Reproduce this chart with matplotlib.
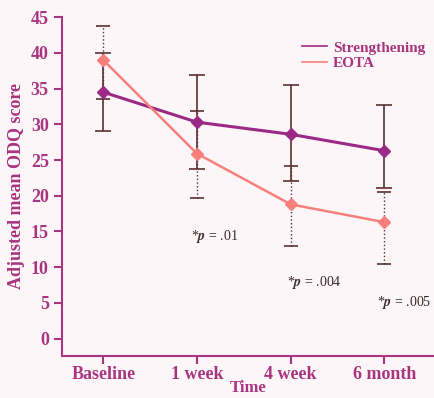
import numpy as np
import matplotlib.pyplot as plt

# data
time_labels = ['Baseline', '1 week', '4 week', '6 month']
strength_mean = [34.5, 30.3, 28.6, 26.3]
strength_upper = [40.0, 36.9, 35.5, 32.7]
strength_lower = [29.0, 23.8, 22.1, 21.1]
eota_mean = [39.0, 25.9, 18.8, 16.3]
eota_upper = [43.7, 31.8, 24.2, 20.5]
eota_lower = [33.5, 19.7, 13.0, 10.5]
p_labels = ['.01', '.004', '.005']
p_pos = [(1.19, 14.3), (2.25, 7.9), (3.21, 5.0)]

pink_text = '#a8357f'
purple = '#9a2a85'
salmon = '#f87f7c'
err_col = '#5b3030'

plt.rcParams['font.family'] = ['Liberation Serif', 'DejaVu Serif']
plt.rcParams['mathtext.fontset'] = 'stix'

fig = plt.figure(figsize=(4.35, 3.98), dpi=100, facecolor='#fdf6f9')
ax = fig.add_axes([0.1425, 0.106, 0.8575, 0.851])
ax.set_facecolor('#fdf6f9')

x = np.arange(len(time_labels))

# error bars (drawn first, behind lines)
s_err = [np.array(strength_mean) - np.array(strength_lower),
         np.array(strength_upper) - np.array(strength_mean)]
e_err = [np.array(eota_mean) - np.array(eota_lower),
         np.array(eota_upper) - np.array(eota_mean)]
eb = ax.errorbar(x, eota_mean, yerr=e_err, fmt='none', ecolor=err_col,
                 elinewidth=1.0, capsize=5, capthick=1.2, zorder=2)
eb[2][0].set_linestyle(':')
ax.errorbar(x, strength_mean, yerr=s_err, fmt='none', ecolor=err_col,
            elinewidth=1.2, capsize=6, capthick=1.2, zorder=2)

ax.plot(x, strength_mean, color=purple, lw=2.2, marker='D', ms=6,
        label='Strengthening', zorder=3)
ax.plot(x, eota_mean, color=salmon, lw=1.8, marker='D', ms=6,
        label='EOTA', zorder=3)

for (px, py), pv in zip(p_pos, p_labels):
    ax.text(px, py, r'*$\boldsymbol{p}$ = ' + pv, fontsize=10, color='#3a2a2a',
            ha='center', va='center')

ax.set_xlim(-0.44, 3.54)
ax.set_ylim(-2.4, 45)
ax.set_yticks(np.arange(0, 46, 5))
ax.set_xticks(x)
ax.set_xticklabels(time_labels)

for s in ['top', 'right']:
    ax.spines[s].set_visible(False)
for s in ['left', 'bottom']:
    ax.spines[s].set_color(pink_text)
    ax.spines[s].set_linewidth(1.5)

ax.tick_params(axis='both', colors=pink_text, labelsize=13, width=1.5,
               length=6, direction='out')
ax.tick_params(axis='x', pad=1)
for lab in ax.get_xticklabels() + ax.get_yticklabels():
    lab.set_fontweight('bold')
    lab.set_color(pink_text)

ax.set_ylabel('Adjusted mean ODQ score', fontsize=13, fontweight='bold',
              color=pink_text, labelpad=4)
ax.set_xlabel('Time', fontsize=12, fontweight='bold', color=pink_text,
              labelpad=-2)

leg = ax.legend(loc='upper right', bbox_to_anchor=(1.01, 0.97), frameon=False,
                handlelength=1.6, handletextpad=0.4, labelspacing=0.1,
                prop={'weight': 'bold', 'size': 11})
for h in leg.get_lines():
    h.set_marker('')
    h.set_linewidth(1.2)
for t in leg.get_texts():
    t.set_color(pink_text)

fig.savefig('out.png', dpi=100, facecolor=fig.get_facecolor())
